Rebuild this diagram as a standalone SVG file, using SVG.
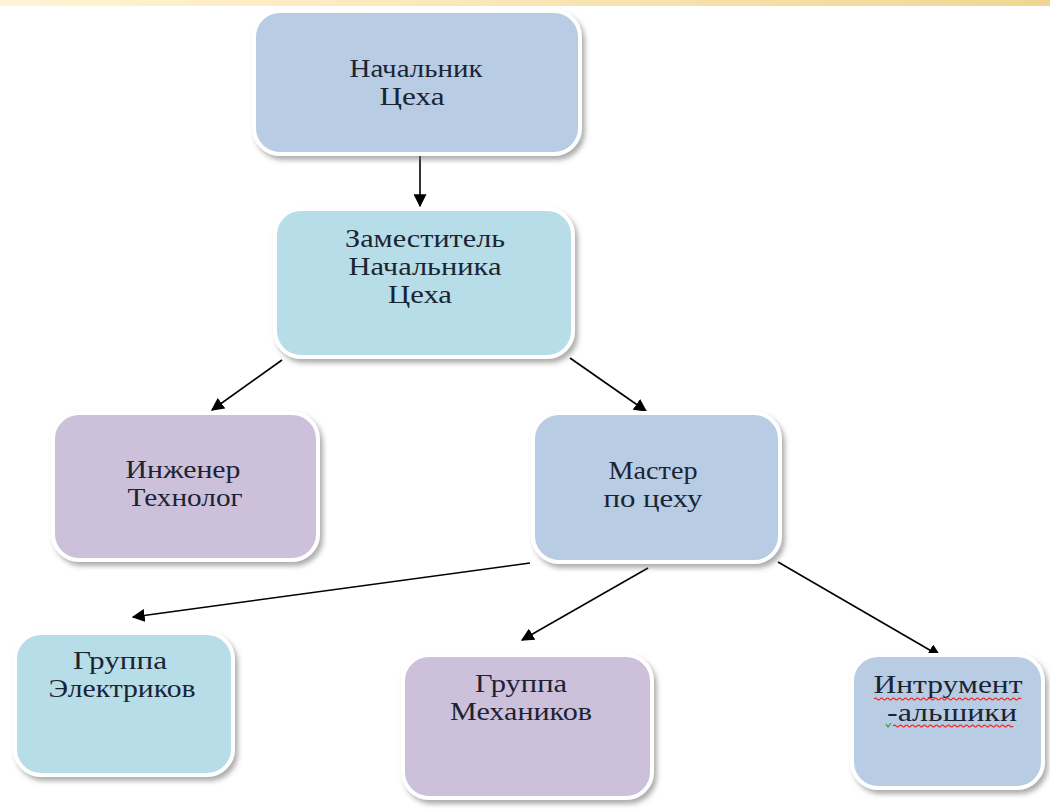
<svg xmlns="http://www.w3.org/2000/svg" width="1050" height="809" viewBox="0 0 1050 809">
<defs>
<style>
.node rect{stroke:#ffffff;stroke-width:4;filter:url(#sh)}
.blue{fill:#b8cce4}
.cyan{fill:#b7dde8}
.lav{fill:#ccc0da}
.t{font-size:25px;fill:#1b2433;text-anchor:middle}
.conn line{stroke:#000;stroke-width:1.6}
.wavy{fill:none;stroke:#e02020;stroke-width:1.2}
</style>
<linearGradient id="band" x1="0" y1="0" x2="1" y2="0">
<stop offset="0" stop-color="#fff4d4"/>
<stop offset="0.5" stop-color="#fae6b4"/>
<stop offset="1" stop-color="#f0d694"/>
</linearGradient>
<filter id="sh" x="-10%" y="-10%" width="125%" height="125%">
<feDropShadow dx="3" dy="4" stdDeviation="2.5" flood-color="#6a6a6a" flood-opacity="0.55"/>
</filter>
<marker id="ah2" viewBox="0 0 10 10" refX="9" refY="5" markerWidth="13" markerHeight="13" markerUnits="userSpaceOnUse" orient="auto">
<path d="M0,0 L10,5 L0,10 z" fill="#000"/>
</marker>
</defs>
<rect x="0" y="0" width="1050" height="809" fill="#ffffff"/>
<rect x="0" y="0" width="1050" height="6" fill="url(#band)"/>

<g id="connectors" class="conn">
<line x1="420" y1="156" x2="420" y2="206" marker-end="url(#ah2)"/>
<line x1="282" y1="360" x2="212" y2="410" marker-end="url(#ah2)"/>
<line x1="570" y1="358" x2="646" y2="411" marker-end="url(#ah2)"/>
<line x1="530" y1="563" x2="133" y2="617" marker-end="url(#ah2)"/>
<line x1="648" y1="568" x2="522" y2="640" marker-end="url(#ah2)"/>
<line x1="778" y1="562" x2="940" y2="656" marker-end="url(#ah2)"/>
</g>

<g font-family="Liberation Serif, Times New Roman, serif">
<g id="n1" class="node">
<rect class="blue" x="254" y="11" width="326" height="143" rx="26"/>
<text class="t" x="416" y="77" textLength="133" lengthAdjust="spacingAndGlyphs">Начальник</text>
<text class="t" x="412" y="105" textLength="65" lengthAdjust="spacingAndGlyphs">Цеха</text>
</g>

<g id="n2" class="node">
<rect class="cyan" x="275" y="209" width="298" height="148" rx="26"/>
<text class="t" x="425" y="247" textLength="160" lengthAdjust="spacingAndGlyphs">Заместитель</text>
<text class="t" x="425" y="275" textLength="153" lengthAdjust="spacingAndGlyphs">Начальника</text>
<text class="t" x="420" y="303" textLength="64" lengthAdjust="spacingAndGlyphs">Цеха</text>
</g>

<g id="n3" class="node">
<rect class="lav" x="53" y="413" width="265" height="147" rx="26"/>
<text class="t" x="183" y="478" textLength="115" lengthAdjust="spacingAndGlyphs">Инженер</text>
<text class="t" x="185" y="506" textLength="115" lengthAdjust="spacingAndGlyphs">Технолог</text>
</g>

<g id="n4" class="node">
<rect class="blue" x="533" y="413" width="247" height="149" rx="26"/>
<text class="t" x="653" y="479" textLength="89" lengthAdjust="spacingAndGlyphs">Мастер</text>
<text class="t" x="653" y="507" textLength="99" lengthAdjust="spacingAndGlyphs">по цеху</text>
</g>

<g id="n5" class="node">
<rect class="cyan" x="15" y="633" width="218" height="142" rx="26"/>
<text class="t" x="120" y="669" textLength="94" lengthAdjust="spacingAndGlyphs">Группа</text>
<text class="t" x="122" y="697" textLength="147" lengthAdjust="spacingAndGlyphs">Электриков</text>
</g>

<g id="n6" class="node">
<rect class="lav" x="403" y="655" width="249" height="143" rx="26"/>
<text class="t" x="521" y="692" textLength="92" lengthAdjust="spacingAndGlyphs">Группа</text>
<text class="t" x="521" y="720" textLength="142" lengthAdjust="spacingAndGlyphs">Механиков</text>
</g>

<g id="n7" class="node">
<rect class="blue" x="852" y="655" width="191" height="133" rx="26"/>
<text class="t" x="948" y="693" textLength="149" lengthAdjust="spacingAndGlyphs">Интрумент</text>
<text class="t" x="952" y="721" textLength="130" lengthAdjust="spacingAndGlyphs">-альшики</text>
<path class="wavy" d="M874,699 q1.5,-2 3,0 t3,0 t3,0 t3,0 t3,0 t3,0 t3,0 t3,0 t3,0 t3,0 t3,0 t3,0 t3,0 t3,0 t3,0 t3,0 t3,0 t3,0 t3,0 t3,0 t3,0 t3,0 t3,0 t3,0 t3,0 t3,0 t3,0 t3,0 t3,0 t3,0 t3,0 t3,0 t3,0 t3,0 t3,0 t3,0 t3,0 t3,0 t3,0 t3,0 t3,0 t3,0 t3,0 t3,0 t3,0 t3,0 t3,0 t3,0 t3,0"/>
<path class="wavy" d="M893,726 q1.5,-2 3,0 t3,0 t3,0 t3,0 t3,0 t3,0 t3,0 t3,0 t3,0 t3,0 t3,0 t3,0 t3,0 t3,0 t3,0 t3,0 t3,0 t3,0 t3,0 t3,0 t3,0 t3,0 t3,0 t3,0 t3,0 t3,0 t3,0 t3,0 t3,0 t3,0 t3,0 t3,0 t3,0 t3,0 t3,0 t3,0 t3,0 t3,0 t3,0 t3,0"/>
<path d="M886,724 l2,3 l3,-4" fill="none" stroke="#2a9a3a" stroke-width="1.2"/>
</g>
</g>
</svg>
